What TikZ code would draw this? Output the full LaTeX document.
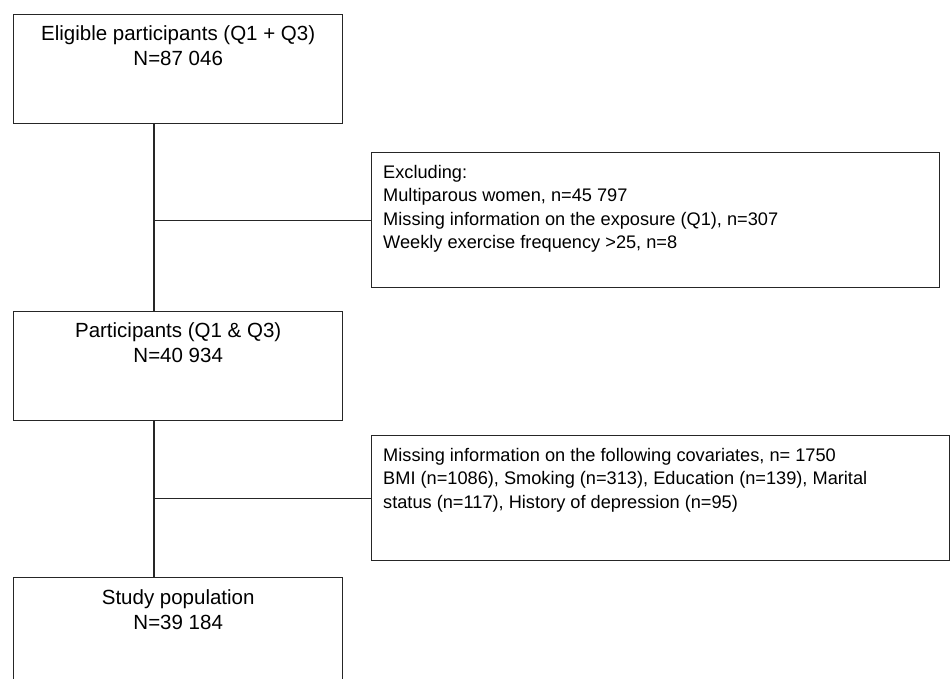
\documentclass[tikz,border=0pt]{standalone}
\usepackage{fontspec}
\setmainfont{Liberation Sans}
\usetikzlibrary{calc, positioning}

\begin{document}
\begin{tikzpicture}[x=1pt, y=-1pt,
    box/.style={draw=black!85, line width=1.4pt, anchor=north west, inner sep=0pt},
    maintxt/.style={align=center, inner sep=0pt, font=\fontsize{20.5}{25}\selectfont},
    exctxt/.style={align=left, inner sep=0pt, anchor=north west, font=\fontsize{18.2}{23.5}\selectfont},
    link/.style={draw=black!85, line width=1.4pt}]
    % page frame
    \useasboundingbox (0,0) rectangle (952,678);
    \clip (0,0) rectangle (952,678);

    % main boxes on the left
    \node[box, minimum width=329pt, minimum height=109pt] (elig) at (13,14) {};
    \node[box, minimum width=329pt, minimum height=109pt] (part) at (13,311) {};
    \node[box, minimum width=329pt, minimum height=130pt] (study) at (13,577) {};
    \node[maintxt, below=11pt of elig.north] (eligtxt) {Eligible participants (Q1 + Q3)\\N=87 046};
    \node[maintxt, below=11pt of part.north] (parttxt) {Participants (Q1 \& Q3)\\N=40 934};
    \node[maintxt, below=12pt of study.north] (studytxt) {Study population\\N=39 184};

    % exclusion boxes on the right
    \node[box, minimum width=568pt, minimum height=135pt] (exc1) at (371,152) {};
    \node[box, minimum width=578pt, minimum height=125pt] (exc2) at (371,435) {};
    \node[exctxt] (exc1txt) at ($(exc1.north west)+(12,13)$)
        {Excluding:\\Multiparous women, n=45 797\\Missing information on the exposure (Q1), n=307\\Weekly exercise frequency >25, n=8};
    \node[exctxt] (exc2txt) at ($(exc2.north west)+(12,13)$)
        {Missing information on the following covariates, n= 1750\\BMI (n=1086), Smoking (n=313), Education (n=139), Marital\\status (n=117), History of depression (n=95)};

    % connectors
    \coordinate (s1) at ($(elig.south west)+(141,0)$);
    \coordinate (s2) at ($(part.south west)+(141,0)$);
    \draw[link] (s1) -- (s1 |- part.north);
    \draw[link] (s1 |- exc1.west) -- (exc1.west);
    \draw[link] (s2) -- (s2 |- study.north);
    \draw[link] (s2 |- exc2.west) -- (exc2.west);
\end{tikzpicture}
\end{document}
